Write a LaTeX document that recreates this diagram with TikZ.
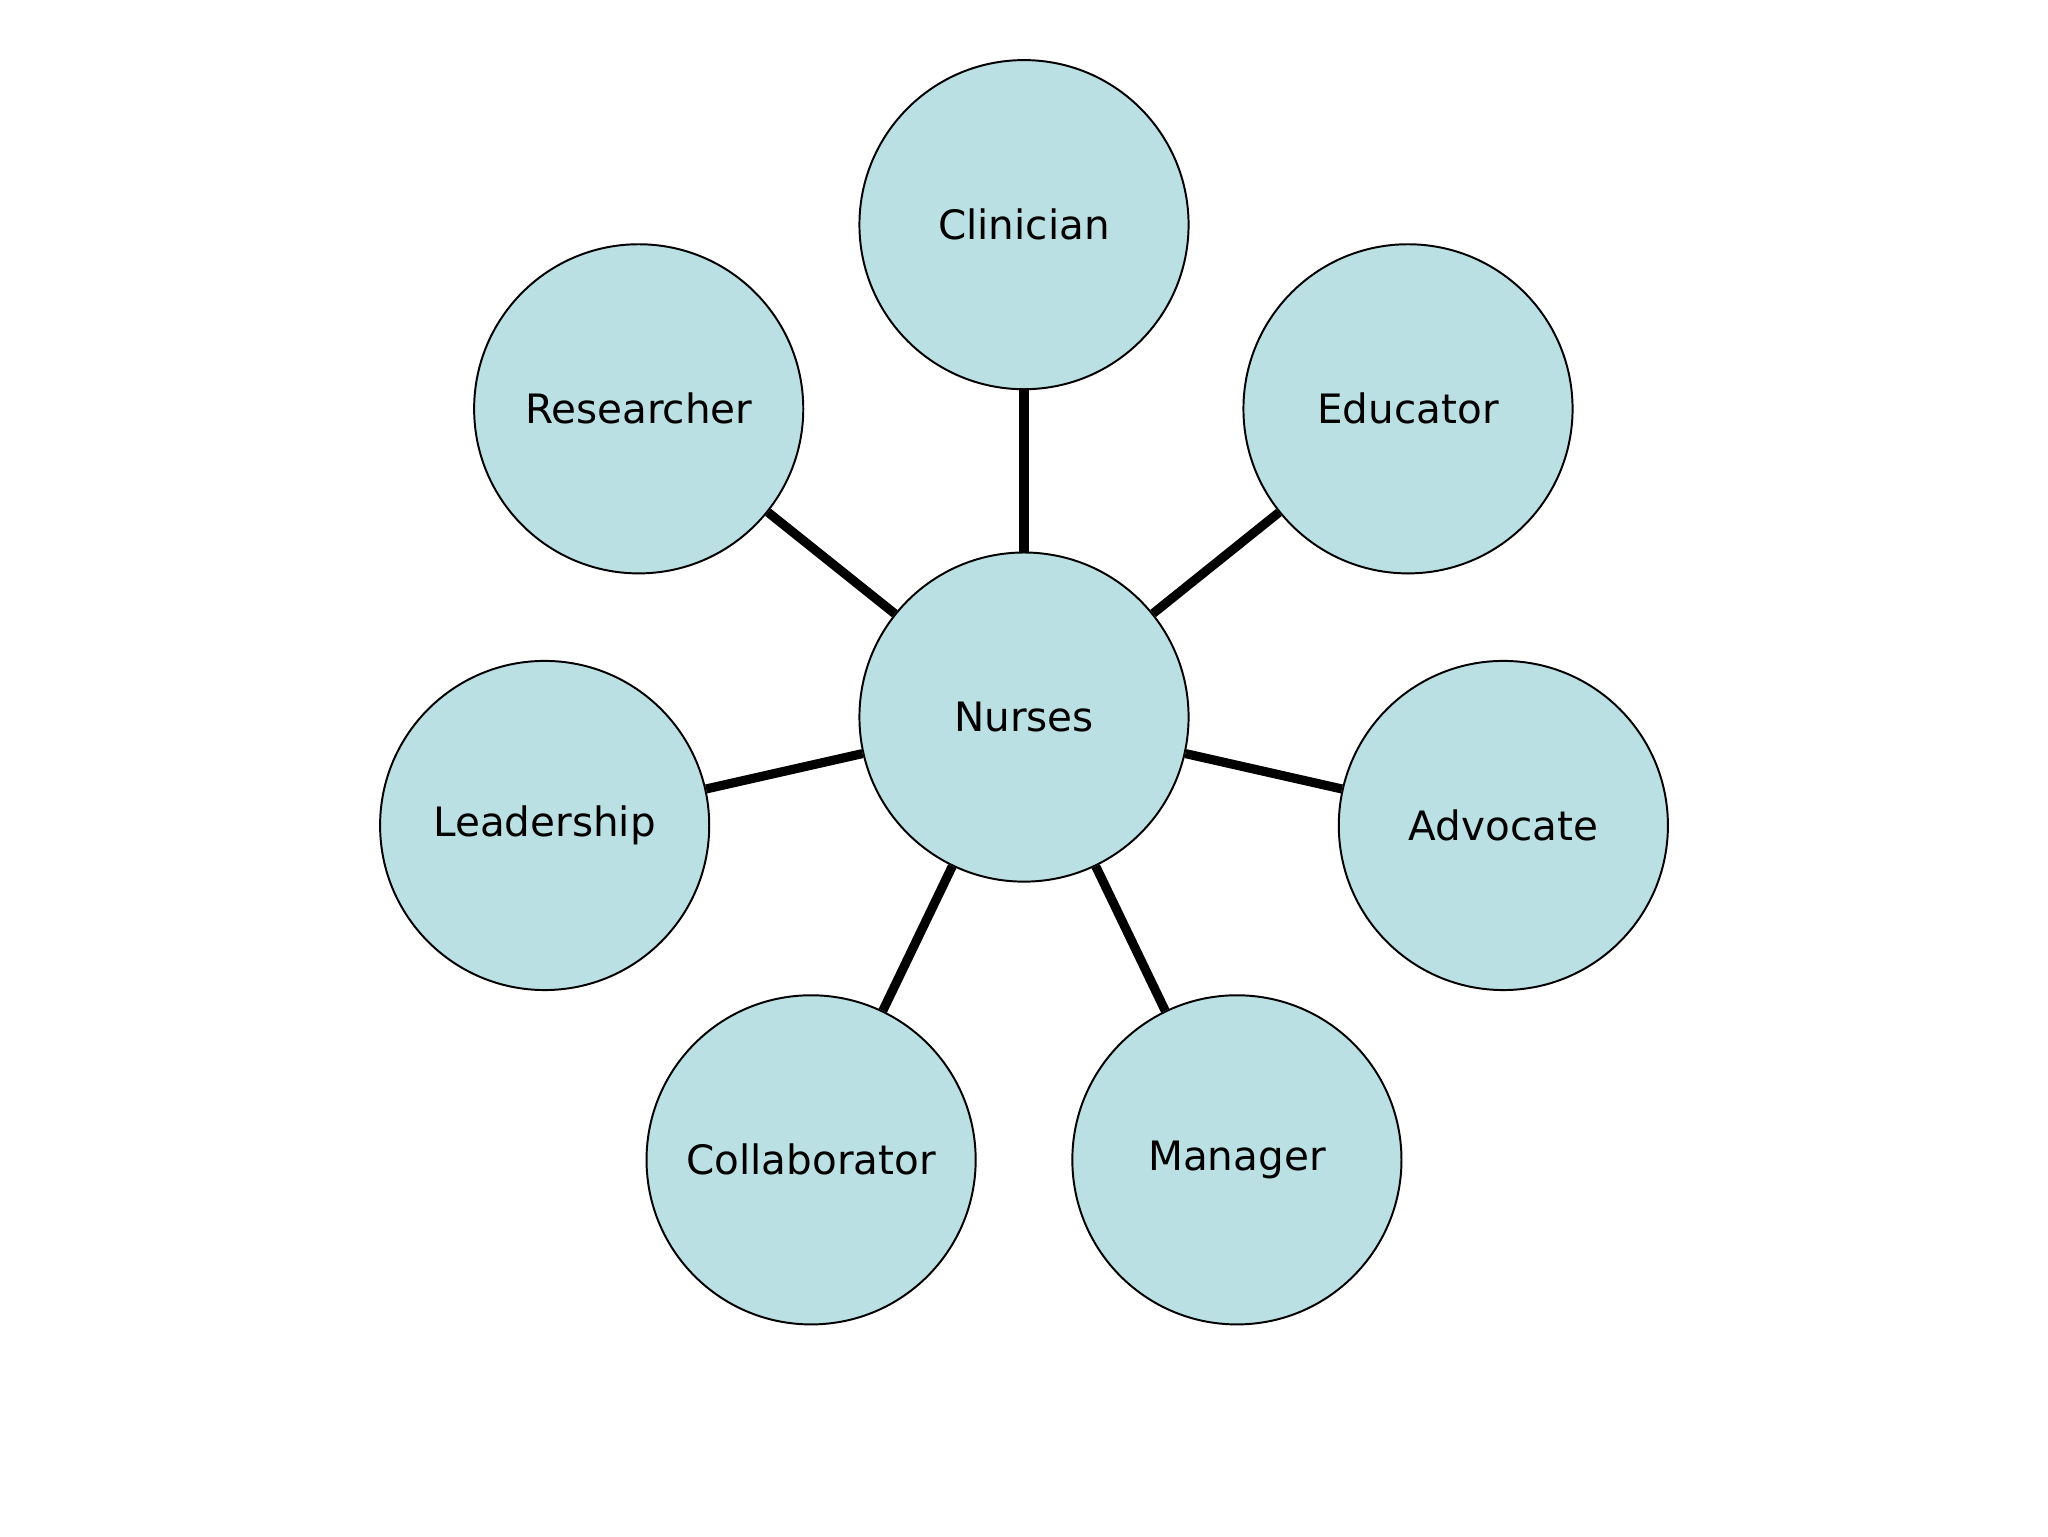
\documentclass[tikz,border=0pt]{standalone}
\usepackage{fontspec}
\setmainfont{DejaVu Sans}
\definecolor{cfill}{HTML}{BBE0E3}
\begin{document}
\begin{tikzpicture}[x=1pt,y=-1pt,
  role/.style={circle,draw=black,line width=1.5pt,fill=cfill,minimum size=252pt,inner sep=0pt,font=\fontsize{31}{36}\selectfont},
  link/.style={line width=7pt,draw=black}]
\useasboundingbox (0,0) rectangle (1568,1176);
\node[role] (n) at (784,549) {Nurses};
\node[role] (c) at (784,172) {Clinician};
\node[role] (e) at (1078,313) {Educator};
\node[role] (a) at (1151,632) {Advocate};
\node[role] (m) at (947,888) {Manager};
\node[role] (co) at (621,888) {Collaborator};
\node[role] (l) at (417,632) {Leadership};
\node[role] (r) at (489,313) {Researcher};
\foreach \t in {c,e,a,m,co,l,r} \draw[link] (n) -- (\t);
\end{tikzpicture}
\end{document}
